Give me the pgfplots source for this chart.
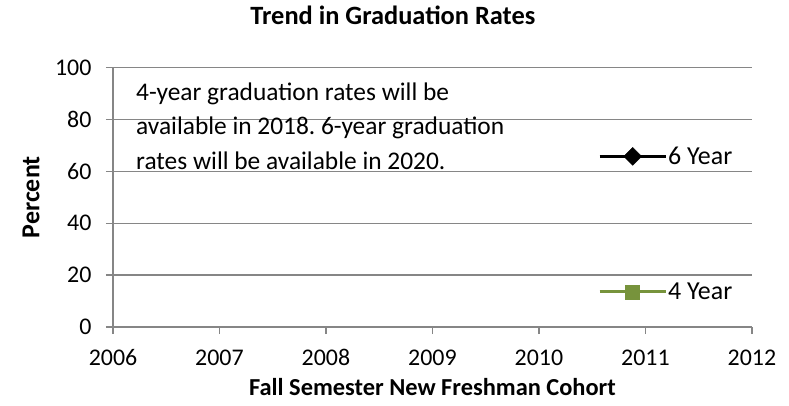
\documentclass[border=0pt]{standalone}
\usepackage{pgfplots}
\pgfplotsset{compat=1.18}
\usepackage{fontspec}
\setmainfont{Carlito}
\frenchspacing
\definecolor{gridgray}{RGB}{134,134,134}
\definecolor{olivegreen}{RGB}{119,147,60}
\begin{document}
\begin{tikzpicture}
\begin{axis}[
  scale only axis, width=639bp, height=259.6bp,
  at={(0,0)}, anchor=south west,
  xmin=2006, xmax=2012, ymin=0, ymax=100,
  xtick={2006,2007,...,2012}, ytick={0,20,...,100},
  /pgf/number format/assume math mode=true,
  /pgf/number format/1000 sep={},
  axis x line=bottom, axis y line=left,
  axis line style={gridgray, line width=1.2bp, -},
  ymajorgrids, grid style={gridgray, line width=1.2bp},
  tick align=outside, major tick length=7bp,
  tick style={gridgray, line width=1.2bp},
  xticklabel style={font=\fontsize{24}{29}\selectfont, text=black, anchor=base, yshift=-31bp},
  yticklabel style={font=\fontsize{24}{29}\selectfont, text=black, anchor=east, xshift=-11bp},
  title={Trend in Graduation Rates},
  title style={font=\fontsize{26.5}{31}\selectfont\bfseries, at={(axis description cs:0.438,1.1425)}, anchor=base},
  xlabel={Fall Semester New Freshman Cohort},
  xlabel style={font=\fontsize{24.5}{30}\selectfont\bfseries, at={(axis description cs:0.5,-0.262)}, anchor=base},
  ylabel={Percent},
  ylabel style={font=\fontsize{26}{31}\selectfont\bfseries, at={(axis description cs:-0.1283,0.5)}, anchor=center, rotate=0},
  legend style={at={(0.759,0.397)}, anchor=west, draw=none, fill=none,
    font=\fontsize{26}{31}\selectfont, row sep=115bp, inner sep=0pt,
    nodes={inner sep=1bp}},
  legend image code/.code={\draw[mark repeat=2,mark phase=2,#1] plot coordinates {(0bp,0bp)(33bp,0bp)(66bp,0bp)};},
]
\addlegendimage{black, line width=3bp, mark=square*, mark size=6.3bp, mark options={rotate=45, solid, line width=0.5bp}}
\addlegendentry{6 Year}
\addlegendimage{olivegreen, line width=3bp, mark=square*, mark size=7bp, mark options={solid, line width=0.5bp}}
\addlegendentry{4 Year}
\node[anchor=base west, font=\fontsize{25.5}{30}\selectfont, inner sep=0pt] at (rel axis cs:0.036,0.874) {4-year graduation rates will be};
\node[anchor=base west, font=\fontsize{25.5}{30}\selectfont, inner sep=0pt] at (rel axis cs:0.036,0.743) {available in 2018. 6-year graduation};
\node[anchor=base west, font=\fontsize{25.5}{30}\selectfont, inner sep=0pt] at (rel axis cs:0.036,0.605) {rates will be available in 2020.};
\end{axis}
\pgfresetboundingbox
\path (-113bp,-79bp) rectangle (676bp,327bp);
\end{tikzpicture}
\end{document}
